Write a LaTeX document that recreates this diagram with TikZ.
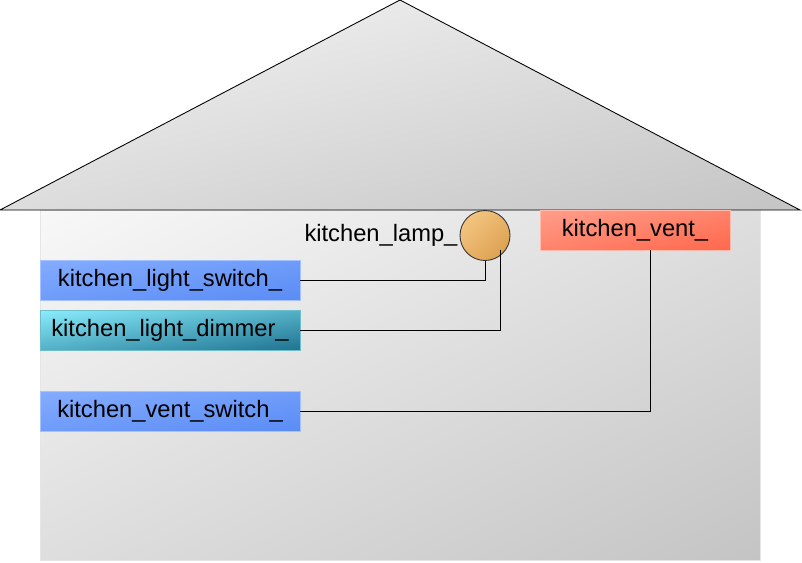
\documentclass[tikz,border=0pt]{standalone}
\usepackage{fontspec}
\setmainfont{Liberation Sans}
\usetikzlibrary{positioning,shadings}
\definecolor{wallA}{HTML}{F8F8F8} \definecolor{wallB}{HTML}{C4C4C4}
\definecolor{roofA}{HTML}{F6F6F6} \definecolor{roofB}{HTML}{C4C4C4}
\definecolor{swA}{HTML}{84ACFF} \definecolor{swB}{HTML}{5A8CF5} \definecolor{swL}{HTML}{A4C2FF}
\definecolor{dimA}{HTML}{88ECFC} \definecolor{dimB}{HTML}{1E7290}
\definecolor{ventA}{HTML}{FF9E8A} \definecolor{ventB}{HTML}{FF684C}
\definecolor{lampA}{HTML}{F8CC8A} \definecolor{lampB}{HTML}{D89A48}
\tikzset{
	diag/.style 2 args={upper left=#1, lower right=#2, upper right=#1!50!#2, lower left=#1!50!#2},
	lbl/.style={font=\fontsize{13.5}{16}\selectfont},
	dev/.style={lbl, rectangle, minimum width=5.2cm, minimum height=0.8cm, inner sep=0pt},
	swbox/.style={dev, diag={swA}{swB}, draw=swL, line width=0.4pt},
	wire/.style={line width=0.5pt}
}
\begin{document}
\begin{tikzpicture}[x=0.02cm, y=-0.02cm]
		\useasboundingbox (0,0) rectangle (802,562);
		% house
		\draw[draw=black!10, diag={wallA}{wallB}] (40,210) rectangle (760,560);
		\draw[wire, diag={roofA}{roofB}] (0,210) -- (400,0) -- (800,210) -- cycle;
		% devices
		\node[circle, draw=black!80, line width=0.5pt, minimum size=1cm, inner sep=0pt, diag={lampA}{lampB}] (lamp) at (485,235.5) {};
		\node[lbl, left, inner sep=1pt] (lampl) at (lamp.west) {kitchen\_lamp\_};
		\node[dev, minimum width=3.8cm, diag={ventA}{ventB}, draw=ventA!70!white] (vent) at (635,230) {kitchen\_vent\_};
		\node[swbox] (sw) at (170,280) {kitchen\_light\_switch\_};
		\node[dev, diag={dimA}{dimB}, draw=dimA!80!black, below=0.2cm of sw] (dim) {kitchen\_light\_dimmer\_};
		\node[swbox, below=0.8cm of dim] (vsw) {kitchen\_vent\_switch\_};
		% wires
		\coordinate (lampC) at (500,250); \coordinate (ventS) at (650,250);
		\draw[wire] (sw) -| (lamp.south);
		\draw[wire] (dim) -| (lampC);
		\draw[wire] (vsw) -| (ventS);
	\end{tikzpicture}
\end{document}
